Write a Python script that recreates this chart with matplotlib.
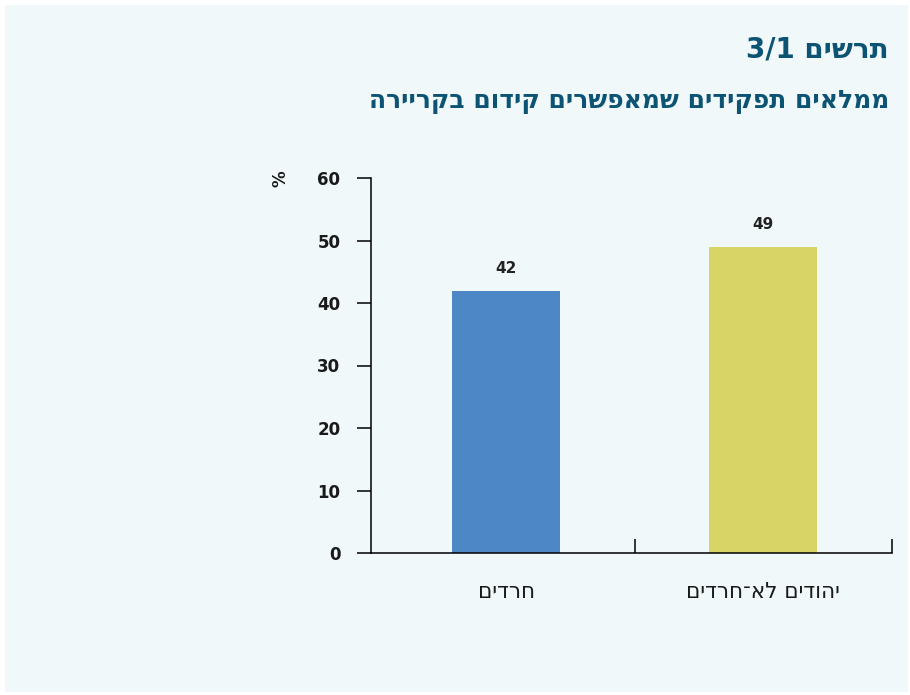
import matplotlib
matplotlib.use("Agg")
import matplotlib.pyplot as plt
from matplotlib.patches import Rectangle

# נתונים
categories = ["חרדים", "יהודים לא־חרדים"]
values = [42, 49]
bar_colors = ["#4d87c6", "#d8d566"]
y_ticks = [0, 10, 20, 30, 40, 50, 60]

title = "תרשים 3/1"
subtitle = "ממלאים תפקידים שמאפשרים קידום בקריירה"


def visual(text):
    """matplotlib לא מטפל בכיווניות - הופכים את סדר האותיות, ומשאירים מספרים כסדרם"""
    words = text.split(" ")
    out = []
    for w in reversed(words):
        if any(ch.isdigit() for ch in w):
            out.append(w)
        else:
            out.append(w[::-1])
    return " ".join(out)


plt.rcParams['font.family'] = ['DejaVu Sans']
bg = "#f0f8fa"
title_color = "#0d5474"

fig = plt.figure(figsize=(9.1, 6.95), dpi=100, facecolor="white")
fig.patches.append(Rectangle((5 / 910, 3 / 695), 903 / 910, 687 / 695,
                             transform=fig.transFigure, facecolor=bg,
                             edgecolor="none", zorder=-10))

ax = fig.add_axes([371 / 910, 1 - 553 / 695, 521 / 910, 375 / 695])
ax.set_facecolor("none")
ax.set_zorder(5)

x = list(range(len(categories)))
bars = ax.bar(x, values, width=0.42, color=bar_colors, zorder=2)
for xi, v in zip(x, values):
    ax.text(xi, v + 2.3, str(v), ha="center", va="bottom",
            fontsize=11, fontweight="bold", color="#222222")

ax.set_xlim(-0.525, 1.5)
ax.set_ylim(0, 60)
ax.set_yticks(y_ticks)
ax.set_yticklabels([str(t) for t in y_ticks], fontsize=12, fontweight="bold",
                   color="#1a1a1a")
ax.tick_params(axis="y", direction="out", length=10, width=1.1, pad=12)

ax.set_xticks(x)
ax.set_xticklabels([visual(c) for c in categories], fontsize=15.5, color="#1a1a1a")
ax.tick_params(axis="x", which="major", length=0, pad=21)
ax.set_xticks([0.5, 1.5], minor=True)
ax.tick_params(axis="x", which="minor", direction="in", length=10, width=1.1)

for side in ["top", "right"]:
    ax.spines[side].set_visible(False)
for side in ["left", "bottom"]:
    ax.spines[side].set_linewidth(1.1)

fig.text(280 / 910, 1 - 179 / 695, "%", rotation=90, ha="center", va="center",
         fontsize=12, fontweight="bold", color="#1a1a1a")

fig.text(889 / 910, 1 - 50 / 695, visual(title), ha="right", va="center",
         fontsize=20, fontweight="bold", color=title_color)
fig.text(889 / 910, 1 - 102 / 695, visual(subtitle), ha="right", va="center",
         fontsize=18, fontweight="bold", color=title_color)

fig.savefig("out.png", dpi=100, facecolor=fig.get_facecolor())
